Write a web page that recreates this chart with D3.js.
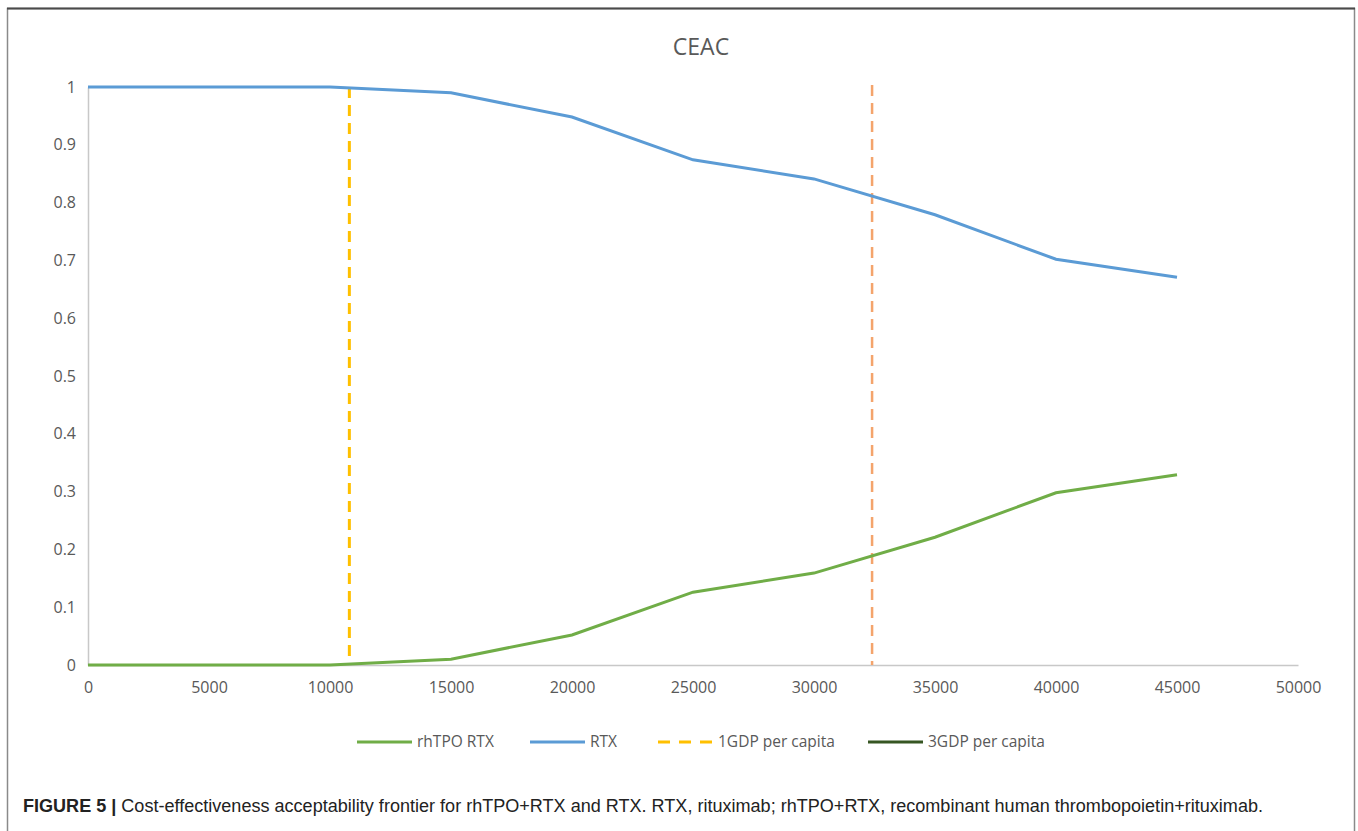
<!DOCTYPE html>
<html>
<head>
<meta charset="utf-8">
<script src="https://cdn.jsdelivr.net/npm/d3@7"></script>
<style>
  body { margin: 0; background: #fff; }
  svg { display: block; }
</style>
</head>
<body>
<svg width="1358" height="831"></svg>
<script>
// Willingness-to-pay thresholds (x) and probability of being cost-effective
var wtp = [0, 5000, 10000, 15000, 20000, 25000, 30000, 35000, 40000, 45000];
var rhtpoRtx = [0, 0, 0, 0.01, 0.052, 0.126, 0.159, 0.221, 0.298, 0.329];
var rtx = [1, 1, 1, 0.99, 0.948, 0.874, 0.841, 0.779, 0.702, 0.671];

var gdp1 = 10800;
var gdp3 = 32400;

var xTicks = d3.range(0, 50001, 5000);
var yTicks = d3.range(0, 11).map(function(i) { return i / 10; });

var legendNames = ["rhTPO RTX", "RTX", "1GDP per capita", "3GDP per capita"];

var svg = d3.select("svg");

// outer frame
svg.append("path")
   .attr("d", "M7.5,831 V8.5 H1354.5 V831")
   .attr("fill", "none")
   .attr("stroke", "#8a8a8a")
   .attr("stroke-width", 1.5);
svg.append("line")
   .attr("x1", 7).attr("x2", 1355).attr("y1", 8.5).attr("y2", 8.5)
   .attr("stroke", "#4a4a4a").attr("stroke-width", 2);

var x = d3.scaleLinear().domain([0, 50000]).range([88, 1298]);
var y = d3.scaleLinear().domain([0, 1]).range([665, 87]);

var font = "'Open Sans', sans-serif";

// title
svg.append("text")
   .attr("x", 701).attr("y", 55)
   .attr("text-anchor", "middle")
   .attr("font-family", font)
   .attr("font-size", 23)
   .attr("fill", "#595959")
   .text("CEAC");

// axes
var xAxis = svg.append("g")
   .attr("transform", "translate(0," + y(0) + ")")
   .call(d3.axisBottom(x).tickValues(xTicks).tickSize(0).tickPadding(17).tickFormat(d3.format("d")));
var yAxis = svg.append("g")
   .attr("transform", "translate(" + x(0) + ",0)")
   .call(d3.axisLeft(y).tickValues(yTicks).tickSize(0).tickPadding(12).tickFormat(d3.format("")));

[xAxis, yAxis].forEach(function(a) {
    a.select(".domain").attr("stroke", "#c8c8c8").attr("stroke-width", 1.5);
    a.selectAll("text")
     .attr("font-family", font)
     .attr("font-size", 16)
     .attr("fill", "#595959");
});

// threshold lines
svg.append("line")
   .attr("x1", x(gdp3)).attr("x2", x(gdp3))
   .attr("y1", y(1) - 2).attr("y2", y(0))
   .attr("stroke", "#f4a46c").attr("stroke-width", 2.5)
   .attr("stroke-dasharray", "11,7");
svg.append("line")
   .attr("x1", x(gdp1)).attr("x2", x(gdp1))
   .attr("y1", y(1)).attr("y2", y(0))
   .attr("stroke", "#ffc000").attr("stroke-width", 3)
   .attr("stroke-dasharray", "11,7");

var line = d3.line()
   .x(function(d) { return x(d[0]); })
   .y(function(d) { return y(d[1]); });

svg.append("path")
   .datum(d3.zip(wtp, rhtpoRtx))
   .attr("d", line)
   .attr("fill", "none")
   .attr("stroke", "#70ad47")
   .attr("stroke-width", 3);

svg.append("path")
   .datum(d3.zip(wtp, rtx))
   .attr("d", line)
   .attr("fill", "none")
   .attr("stroke", "#5b9bd5")
   .attr("stroke-width", 3);

// legend
var legendColors = ["#70ad47", "#5b9bd5", "#ffc000", "#375623"];
var legendDash = [null, null, "12,9", null];
var legendX = [357, 530, 658, 868];

var legend = svg.append("g")
   .selectAll("g")
   .data(legendNames)
   .enter()
   .append("g")
   .attr("transform", function(d, i) { return "translate(" + legendX[i] + ",742)"; });

legend.append("line")
   .attr("x1", 0).attr("x2", 55)
   .attr("stroke", function(d, i) { return legendColors[i]; })
   .attr("stroke-width", 3)
   .attr("stroke-dasharray", function(d, i) { return legendDash[i]; });

legend.append("text")
   .attr("x", 60).attr("dy", "0.35em")
   .attr("font-family", font)
   .attr("font-size", 15.5)
   .attr("fill", "#595959")
   .text(function(d) { return d; });

// caption
var caption = svg.append("text")
   .attr("x", 23).attr("y", 812)
   .attr("font-family", "'Liberation Sans', Arial, sans-serif")
   .attr("font-size", 17.5)
   .attr("fill", "#222");
caption.append("tspan").attr("font-weight", "bold").text("FIGURE 5 | ");
caption.append("tspan").text("Cost-effectiveness acceptability frontier for rhTPO+RTX and RTX. RTX, rituximab; rhTPO+RTX, recombinant human thrombopoietin+rituximab.");
caption.attr("textLength", 1240).attr("lengthAdjust", "spacingAndGlyphs");
</script>
</body>
</html>
